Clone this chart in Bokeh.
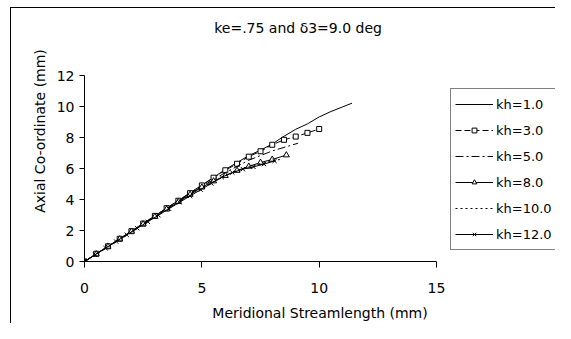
from bokeh.plotting import figure
from bokeh.models import Legend, LegendItem, Label, FixedTicker, Range1d
from bokeh.embed import file_html
from bokeh.resources import INLINE

title_text = "ke=.75 and δ3=9.0 deg"
x_label = "Meridional Streamlength (mm)"
y_label = "Axial Co-ordinate (mm)"
x_ticks = [0, 5, 10, 15]
y_ticks = [0, 2, 4, 6, 8, 10, 12]

# kh=1.0
x_kh1 = [0, 1, 2, 3, 4, 5, 5.5, 6, 6.5, 7, 7.5, 8, 8.5, 9, 9.5, 10, 10.5, 11, 11.4]
y_kh1 = [0, 0.98, 1.97, 2.96, 3.95, 4.94, 5.44, 5.95, 6.4, 6.85, 7.2, 7.6, 8.1, 8.55, 8.9, 9.35, 9.7, 10.0, 10.24]
# kh=3.0
x_kh3 = [0, 0.5, 1, 1.5, 2, 2.5, 3, 3.5, 4, 4.5, 5, 5.5, 6, 6.5, 7, 7.5, 8, 8.5, 9, 9.5, 10]
y_kh3 = [0, 0.5, 0.98, 1.47, 1.96, 2.45, 2.95, 3.45, 3.93, 4.42, 4.92, 5.42, 5.9, 6.32, 6.78, 7.13, 7.55, 7.87, 8.08, 8.32, 8.57]
# kh=5.0
x_kh5 = [0, 1, 2, 3, 4, 5, 6, 7, 8, 9.1]
y_kh5 = [0, 0.97, 1.94, 2.92, 3.9, 4.85, 5.75, 6.55, 7.15, 7.65]
# kh=8.0
x_kh8 = [0, 0.5, 1, 1.5, 2, 2.5, 3, 3.5, 4, 4.5, 5, 5.5, 6, 6.5, 7, 7.5, 8, 8.6]
y_kh8 = [0, 0.48, 0.97, 1.45, 1.94, 2.42, 2.9, 3.38, 3.86, 4.33, 4.8, 5.2, 5.55, 5.88, 6.15, 6.4, 6.6, 6.88]
# kh=10.0
x_kh10 = [0, 1, 2, 3, 4, 5, 6, 7, 8, 8.4]
y_kh10 = [0, 0.97, 1.93, 2.88, 3.83, 4.75, 5.55, 6.15, 6.5, 6.62]
# kh=12.0
x_kh12 = [0, 0.45, 0.9, 1.35, 1.8, 2.25, 2.7, 3.15, 3.6, 4.05, 4.5, 4.95, 5.4, 5.85, 6.3, 6.75, 7.2, 7.65, 8.1]
y_kh12 = [0, 0.43, 0.86, 1.29, 1.72, 2.15, 2.57, 2.99, 3.41, 3.83, 4.24, 4.64, 5.05, 5.45, 5.75, 5.97, 6.12, 6.3, 6.5]

FONT = "DejaVu Sans"

# frame spans from the y axis to the right edge and to the top edge, so the
# legend and title (annotations) are not clipped; axes are bounded to the data span
p = figure(width=555, height=323, output_backend="svg", toolbar_location=None,
           x_range=Range1d(0, 20.07), y_range=Range1d(0, 16.88),
           min_border_left=84, min_border_right=0, min_border_top=0, min_border_bottom=62)
p.outline_line_color = None
p.grid.visible = False
p.background_fill_color = None
p.border_fill_color = None
p.styles = {
    "background": "linear-gradient(black, black) 10px 7px / 1px 100% no-repeat, "
                  "linear-gradient(black, black) 10px 7px / 100% 1px no-repeat, white"
}

for ax in (p.xaxis[0], p.yaxis[0]):
    ax.axis_line_color = "black"
    ax.major_tick_line_color = "black"
    ax.minor_tick_line_color = None
    ax.major_tick_in = 0
    ax.major_label_text_font = FONT
    ax.major_label_text_font_size = "14px"
    ax.major_label_text_color = "black"
    ax.axis_label_text_font = FONT
    ax.axis_label_text_font_size = "14px"
    ax.axis_label_text_font_style = "normal"
    ax.axis_label_text_color = "black"

p.xaxis.ticker = FixedTicker(ticks=x_ticks)
p.yaxis.ticker = FixedTicker(ticks=y_ticks)
p.xaxis.bounds = (x_ticks[0], x_ticks[-1])
p.yaxis.bounds = (y_ticks[0], y_ticks[-1])
p.xaxis.axis_label = x_label
p.yaxis.axis_label = y_label
p.xaxis.major_tick_out = 6
p.yaxis.major_tick_out = 5
p.xaxis.major_label_standoff = 15
p.yaxis.major_label_standoff = 5
p.xaxis.axis_label_standoff = 9
p.yaxis.axis_label_standoff = 6

r1 = p.line(x_kh1, y_kh1, line_color="black", line_width=1)
r3 = p.line(x_kh3, y_kh3, line_color="black", line_width=1, line_dash="6 3")
m3 = p.scatter(x_kh3, y_kh3, marker="square", size=5, line_color="black", fill_color="white")
r5 = p.line(x_kh5, y_kh5, line_color="black", line_width=1, line_dash="8 3 2 3")
r8 = p.line(x_kh8, y_kh8, line_color="black", line_width=1)
m8 = p.scatter(x_kh8, y_kh8, marker="triangle", size=6, line_color="black", fill_color="white")
r10 = p.line(x_kh10, y_kh10, line_color="black", line_width=1, line_dash="2 3")
r12 = p.line(x_kh12, y_kh12, line_color="black", line_width=1)
m12 = p.scatter(x_kh12, y_kh12, marker="x", size=6, line_color="black")

legend = Legend(items=[
    LegendItem(label="kh=1.0", renderers=[r1]),
    LegendItem(label="kh=3.0", renderers=[r3, m3]),
    LegendItem(label="kh=5.0", renderers=[r5]),
    LegendItem(label="kh=8.0", renderers=[r8, m8]),
    LegendItem(label="kh=10.0", renderers=[r10]),
    LegendItem(label="kh=12.0", renderers=[r12, m12]),
], location=(366, 11))
legend.label_text_font = FONT
legend.label_text_font_size = "13px"
legend.label_text_color = "black"
legend.glyph_width = 38
legend.glyph_height = 12
legend.label_height = 22
legend.label_standoff = 3
legend.spacing = 4
legend.padding = 4
legend.margin = 0
legend.border_line_color = "black"
legend.border_line_width = 1
legend.background_fill_color = "white"
legend.background_fill_alpha = 1
p.add_layout(legend, "center")

p.add_layout(Label(x=9.1, y=15.09, text=title_text, text_align="center", text_baseline="middle",
                   text_font=FONT, text_font_size="14px", text_color="black"))

open("out.html", "w").write(file_html(p, INLINE))
